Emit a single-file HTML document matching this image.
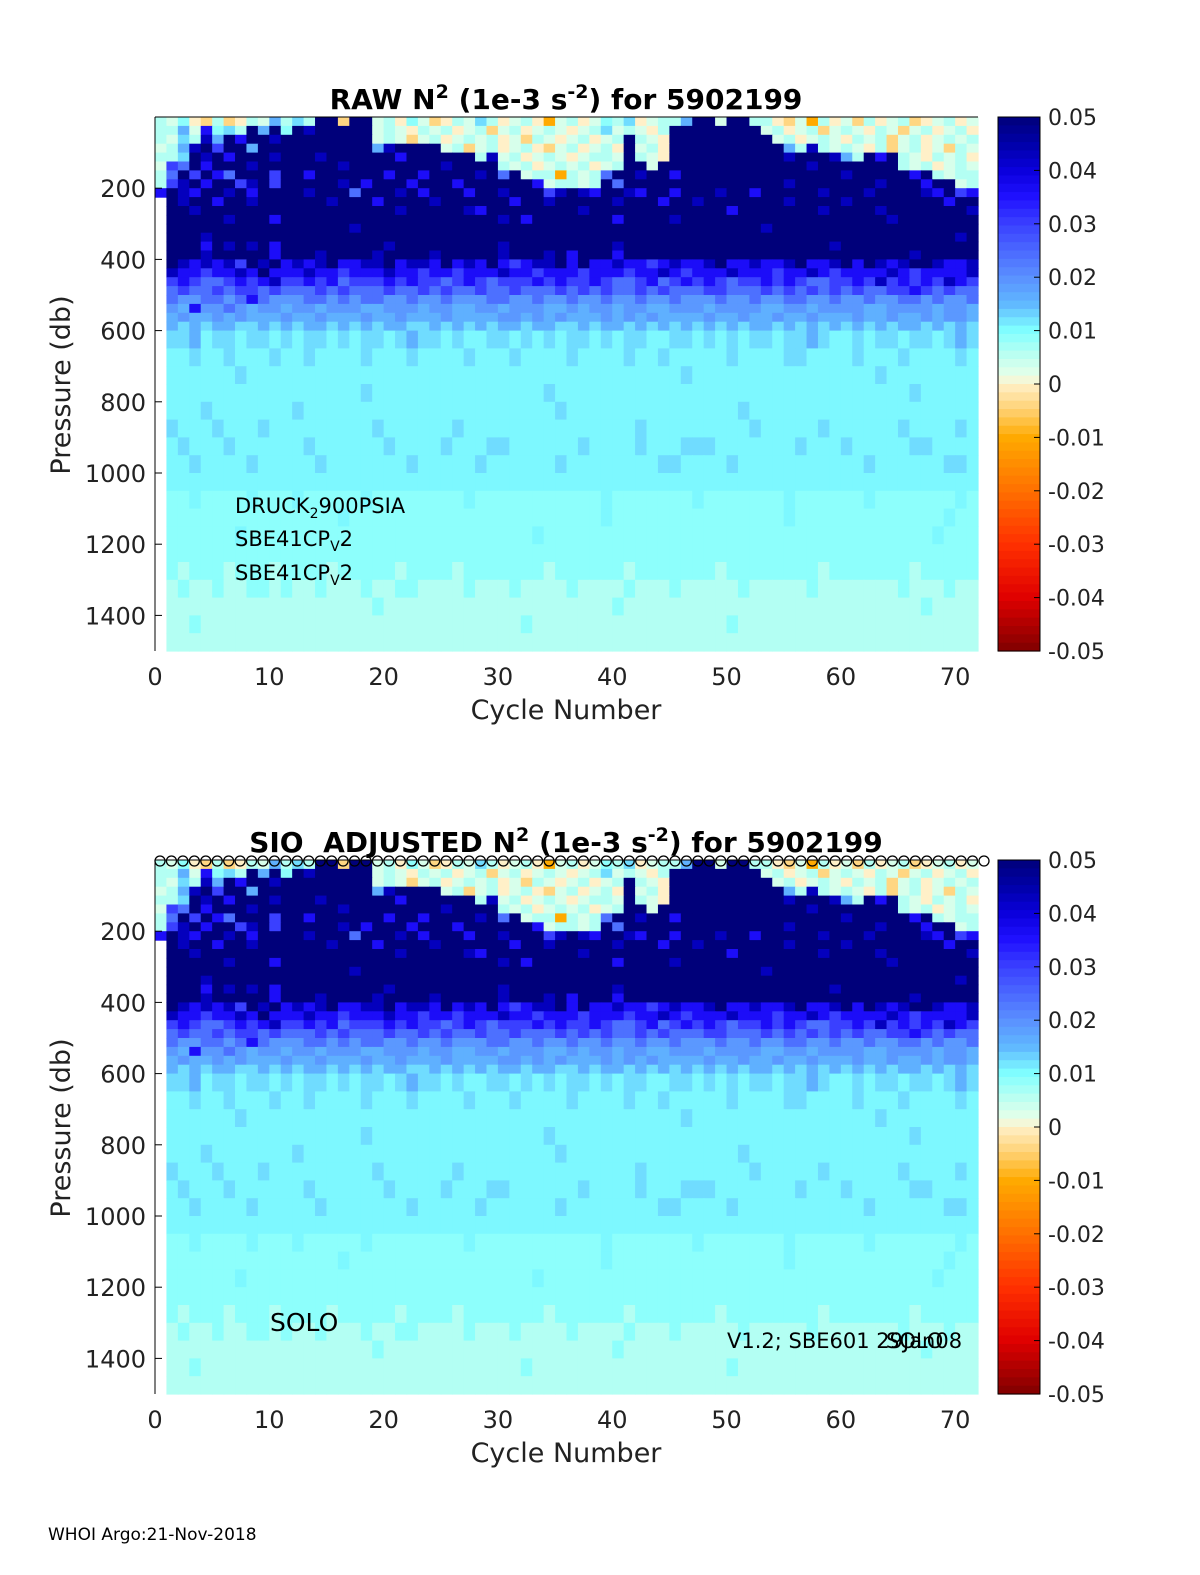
<!DOCTYPE html>
<html><head><meta charset="utf-8"><style>
body{margin:0;background:#fff;}
svg{display:block;font-family:"DejaVu Sans","Liberation Sans",sans-serif;}
</style></head><body>
<svg id="fig" width="1200" height="1575" viewBox="0 0 1200 1575" xmlns="http://www.w3.org/2000/svg"></svg>
<script>
// ---- data ----
const cycleTicks=[0,10,20,30,40,50,60,70];
const pressureTicks=[200,400,600,800,1000,1200,1400];
const cbarTicks=[0.05,0.04,0.03,0.02,0.01,0,-0.01,-0.02,-0.03,-0.04,-0.05];
const cbarTickLabels=["0.05","0.04","0.03","0.02","0.01","0","-0.01","-0.02","-0.03","-0.04","-0.05"];
const depthEdges=[0,25,50,75,100,125,150,175,200,225,250,275,300,325,350,375,400,425,450,475,500,525,550,575,600,650,700,750,800,850,900,950,1000,1050,1100,1150,1200,1250,1300,1350,1400,1450,1500];
const levelCodes="nmbcdefghijkwyo";
const levelValues=[0.05,0.043,0.036,0.03,0.024,0.019,0.016,0.0125,0.0105,0.009,0.006,0.003,0.0,-0.004,-0.01];
const grid=[
"jkiwyjywjkfjgjnnynnkjwikywjkgjwkjwokjwkijgwkjjfnnknnjjwykojwkyjwkjywkjwk",
"jjfkbigjnfninmnnnnnkjkwjkjwkjykjwkjkwkjgkjkwjnnnnnnnnkjwkjykjkwjkykjwkjw",
"jkgjmfnbnnmnnnnnnnnkjkykjwkjkjwkyjkwkjwkjnjkwnnnnnnnnnkjwkjkwjkjykjwkjkj",
"kjfmncnnfnnnnnnnnnnfmnnnnkjykjwkjwykjwkjwnkjwnnnnnnnnnnfjmjkjkwjykjwkyjk",
"jjgnmnbnnnmnnnmnnnnnnbnnnnnnjmkjwkjkwkjjknjkwnnnnnnnnnnmnnnmfjnbnjkwjkjw",
"kcdnbnnnmnnnnnnnmnnnnnnnnmnnnnjkjwkjkjwkjnnknnnnnnnnnnnnnmnnnnnnnjkjwkjk",
"jdncnbdnnncnnbnnnnnnbnnbnnnnmndnkjjojkjdnnmnnbnnnnnnnnnnnnnnmnnnnnbnjkjj",
"jcmnbnncmncnnnnnmnbnnnbnnnbnnnnnnbkjjkjndnnnnnnnnnnnnnnmnnnnnnnmnnnbnnkj",
"bnmbnnmnbnnnnmnnndnnnmnbnnnbnnmnnncmnmbnnmbnnbnnnmnnbnnnnnmnnnmnnnnmbncb",
".nmnnbnnmnnnnnnmnnnbnnnnmnnnnnnbnnmnnnnnmnnnbnnmnnnnnnnmnnnnmnnnnnnnnbnn",
".nnmnnnnnnnnnnnnnnnnnmnnnnnmbnnnnnnnnmnnnnnnnnnnnnbnnnnnnnmnnnnmnnnnnnnm",
".nnnnnmnnnbnnnnnnnnnnnnnnnnnnnmnbnnnnnnnbnnnnmnnnnnnnnnnnnnnnnnnmnnnnnnn",
".nnnnnnnnnnnnnnnnmnnnnnnnnnnnnnnnnnnnnnnnnnnnnnnnnnnnmnnnnnnnnnnnnnnnnnn",
".nnnmnnnnnnnnnnnnnnnnnnnnnnnnnnnnnnnnnnnnnnnnnnnnnnnnnnnnnnnnnnnnnnnnnmn",
".nnnbnmnmnbnnnnnnnnnmnnnnnnnnnmnnnnnnnnnmnnnnnnnnnnnnnnnnnnmnnnnnnnnnnnn",
".nnnmnnnnnbnnnmnnnnmnnnnmnnnnnmnnnmnbnnnbnnnnnnnnnnnnnnnnnnnnnnnnnmnnnnn",
".nmbmbmcnmnbmbmnbbmmnbmmbnbmbnbcbmmnbnbbmbbcbmbbmnbbmbbmnbbmnbnmbmnnmbbm",
".mbbcbbmbnbbbmbbcbbbmbbcbbcbbbmbbcbbbcbbbcbbmbcbbbmbbbcbbmbcbbbbmbcbbbbm",
".cbcddcbcbmccbcbdcccbcbccdcbcdcccbcbccbcddcbdcbcbcdccbcbcddccbcmcbcbcmbc",
".dcddcdccdcdddcdcdddcddcdcddcddcdddcdcdcddcdcdddccdddcdcdcdcdcddccbcdcdd",
".deeddedbdeeeddededdeedeedeeeddeedeedeedeedeedeeedeedeeddeedeedeeddedeed",
".efbeedefeefeefeeeffeeefeeffeefeeeffefeefeeffeeefeeeeffeefeeeeffeeeefeef",
".feffefefffeffefffeffefffeffffeefefefffefefeffffeffeffeffefffeffeffefeef",
".fgfgffggfgfgffgfgfgffggfgfgfgffgffggfgffgfgfgfgfgfgffgfgfgfgfgfgffgfgfg",
".ggfhgghgghghgghghgghgfgghghhgghghghgghghgghhgghghghgghggfghhghgghgghgfg",
".hhghhghhhghhghhhhghhhghhhhghhhghhhhghhhhghhghhhhhghhhhgghhhhghhhghhhhgh",
".hhhhhhghhhhhhhhhhhhhhhhhhhhhhhhhhhhhhhhhhhhhhghhhhhhhhhhhhhhhhghhhhhhhh",
".hhhhhhhhhhhhhhhhhghhhhhhhhhhhhhhhghhhhhhhhhhhhhhhhhhhhhhhhhhhhhhhghhhhh",
".hhhghhhhhhhghhhhhhhhhhhhhhhhhhhhhhghhhhhhhhhhhhhhhghhhhhhhhhhhhhhhhhhhh",
".ghhhghhhghhhhhhhhhghhhhhhghhhhhhhhhhhhhhhghhhhhhhhhghhhhhghhhhhhghhhhgh",
".hghhhghhhhhhghhhhhhghhhhghhhgghhhhhhghhhhghhhggghhhhhhhghhhghhhhhgghhhh",
".hhghhhhghhhhhghhhhhhhghhhhhghhhhhhghhhhhhhhgghhhhghhhhhhhhhhhghhhhhhggh",
".hhhhhhhhhhhhhhhhhhhhhhhhhhhhhhhhhhhhhhhhhhhhhhhhhhhhhhhhhhhhhhhhhhhhhhh",
".iihiiiihiiihiiiiihiiiiiiiihiiiiiiiiiiihiiiiiiihiiiiiiihiiiiiihiiiiiiihii",
".iiiiiiiiiiiiiiihiiiiiiiiiiiiiiiiiiiiiihiiiiiiiiiiiiiiihiiiiiiiiiiiiihiiii",
".iiiiiihiiiiiiiiiiiiiiiiiiiiiiiiihiiiiiiiiiiiiiiiiiiiiiiiiiiiiiiiiiihiiiiii",
".iiiiiiiiiiiiiiiiiiiiiiiiiiiiiiiiiiiiiiiiiiiiiiiiiiiiiiiiiiiiiiiiiiiiiiiii",
".ijiiijiiijiiiijiiiiijiiiijiiiiiiijiiiiiijiiiiiiijiiiiiiiijiiiiiiijiiiiij",
".jijjijjiijijjijjjijjiijjjjijjjijjjjijjjjijjjijjjjjijjjjjijjjjjjjijjjijjj",
".jjjjjjjjjjjjjjjjjjijjjjjjjjjjjjjjjjjjjjijjjjjjjjjjjjjjjjjjjjjjjjjjijjjj",
".jjijjjjjjjjjjjjjjjjjjjjjjjjjjjjijjjjjjjjjjjjjjjjjijjjjjjjjjjjjjjjjjjjjj",
".jjjjjjjjjjjjjjjjjjjjjjjjjjjjjjjjjjjjjjjjjjjjjjjjjjjjjjjjjjjjjjjjjjjjjjj"
];
const nCycles=72;
const flagCycles=73;
// colormap stops
const cmVals=[0.05,0.045,0.04,0.035,0.03,0.025,0.02,0.015,0.01,0.005,0.0015,0,-0.005,-0.01,-0.02,-0.03,-0.04,-0.05];
const cmCols=["#00007a","#0000a8","#0a00dc","#2010ff","#3a40ff","#4a68ff","#5a90ff","#60b8ff","#80ffff","#c0fff0","#e8ffe8","#fff0c8","#ffd070","#ffaa00","#ff7000","#ff3000","#e00000","#800000"];

function hex(h){return [1,3,5].map(i=>parseInt(h.substr(i,2),16));}
function cmap(v){
  v=Math.max(-0.05,Math.min(0.05,v));
  for(let i=0;i<cmVals.length-1;i++){
    const a=cmVals[i],b=cmVals[i+1];
    if(v<=a&&v>=b){const t=(a-v)/(a-b);const c1=hex(cmCols[i]),c2=hex(cmCols[i+1]);
      return "rgb("+c1.map((c,k)=>Math.round(c+(c2[k]-c)*t)).join(",")+")";}
  }
  return cmCols[0];
}
const NS="http://www.w3.org/2000/svg";
const svg=document.getElementById('fig');
function mk(tag,attrs,parent,text){const e=document.createElementNS(NS,tag);for(const k in attrs)e.setAttribute(k,attrs[k]);if(text!==undefined)e.textContent=text;(parent||svg).appendChild(e);return e;}

function panel(top,titleParts,pfx,isAdj){
  const left=155,right=978,bottom=top+534;
  const xs=c=>left+(right-left)*c/nCycles;
  const ys=p=>top+(bottom-top)*p/1500;
  const g=mk('g',{});
  
  
  const hm=mk('g',{},g);
  
  
  for(let r=0;r<grid.length;r++){
    const row=grid[r];
    for(let c=0;c<nCycles;c++){
      const ch=c<row.length?row[c]:row[row.length-1];
      const idx=levelCodes.indexOf(ch);
      if(idx<0)continue;
      const x0=xs(c),x1=xs(c+1),y0=ys(depthEdges[r]),y1=ys(depthEdges[r+1]);
      const rc=mk('rect',{x:x0,y:y0,width:x1-x0+0.6,height:y1-y0+0.6,fill:cmap(levelValues[idx])},hm);
      
      
    }
  }
  mk('line',{x1:left,y1:top,x2:right,y2:top,stroke:'#000','stroke-width':1},g);
  const ax=mk('line',{x1:left,y1:top,x2:left,y2:bottom,stroke:'#000','stroke-width':1},g);
  
  
  pressureTicks.forEach(p=>{
    mk('line',{x1:left,y1:ys(p),x2:left+7,y2:ys(p),stroke:'#000'},g);
    const t=mk('text',{x:146,y:ys(p)+9,'text-anchor':'end','font-size':24,fill:'#222'},g,String(p));
    
    
  });
  cycleTicks.forEach(c=>{
    const t=mk('text',{x:xs(c),y:bottom+34,'text-anchor':'middle','font-size':24,fill:'#222'},g,String(c));
    
    
  });
  const xt=mk('text',{x:566,y:bottom+68,'text-anchor':'middle','font-size':27,fill:'#222'},g,'Cycle Number');
  
  
  const yt=mk('text',{x:0,y:0,'text-anchor':'middle','font-size':27,fill:'#222',transform:'translate(70,'+(top+268)+') rotate(-90)'},g,'Pressure (db)');
  
  
  const tt=mk('text',{x:566,y:top-8,'text-anchor':'middle','font-size':28,'font-weight':'bold',fill:'#000'},g);
  
  
  titleParts.forEach(p=>{mk('tspan',p.sup?{'baseline-shift':'super','font-size':19}:{},tt,p.t);});
  const cb=mk('g',{},g);
  
  
  const cx=998,cw=42,chh=bottom-top,n=64;
  for(let i=0;i<n;i++){
    const v=0.05-(i+0.5)*0.1/n;
    mk('rect',{x:cx,y:top+chh*i/n,width:cw,height:chh/n+0.6,fill:cmap(v)},cb);
  }
  mk('rect',{x:cx,y:top,width:cw,height:chh,fill:'none',stroke:'#000','stroke-width':1},cb);
  cbarTicks.forEach((v,i)=>{
    const y=top+chh*(0.05-v)/0.1;
    mk('line',{x1:cx+cw-6,y1:y,x2:cx+cw,y2:y,stroke:'#000'},cb);
    const t=mk('text',{x:1048,y:y+8,'font-size':22,fill:'#222'},cb,cbarTickLabels[i]);
    
    
  });
  if(isAdj){
    const fl=mk('g',{},g);
    
    
    for(let i=0;i<flagCycles;i++){
      const c=mk('circle',{cx:160+i*(984-160)/(flagCycles-1),cy:top+1,r:5,fill:'none',stroke:'#000','stroke-width':1.3},fl);
      
      
    }
  }
}
panel(117,[{t:'RAW N'},{t:'2',sup:1},{t:' (1e-3 s'},{t:'-2',sup:1},{t:') for 5902199'}],'raw',false);
panel(860,[{t:'SIO\u00a0 ADJUSTED N'},{t:'2',sup:1},{t:' (1e-3 s'},{t:'-2',sup:1},{t:') for 5902199'}],'adjusted',true);
</script>
<div style="position:absolute;left:0;top:0;width:1200px;height:1575px;pointer-events:none;font-family:'DejaVu Sans','Liberation Sans',sans-serif;color:#000;">
  <div style="position:absolute;left:235px;top:494px;font-size:21px;">DRUCK<sub style="font-size:14px">2</sub>900PSIA</div>
  <div style="position:absolute;left:235px;top:527px;font-size:21px;">SBE41CP<sub style="font-size:14px">V</sub>2</div>
  <div style="position:absolute;left:235px;top:561px;font-size:21px;">SBE41CP<sub style="font-size:14px">V</sub>2</div>
  <div style="position:absolute;left:270px;top:1308px;font-size:25px;">SOLO</div>
  <div style="position:absolute;left:727px;top:1329px;font-size:21px;">V1.2; SBE601 29Jan08</div>
  <div style="position:absolute;left:886px;top:1329px;font-size:21px;">SOLO</div>
  <div style="position:absolute;left:48px;top:1525px;font-size:17px;">WHOI Argo:21-Nov-2018</div>
</div>
</body></html>
